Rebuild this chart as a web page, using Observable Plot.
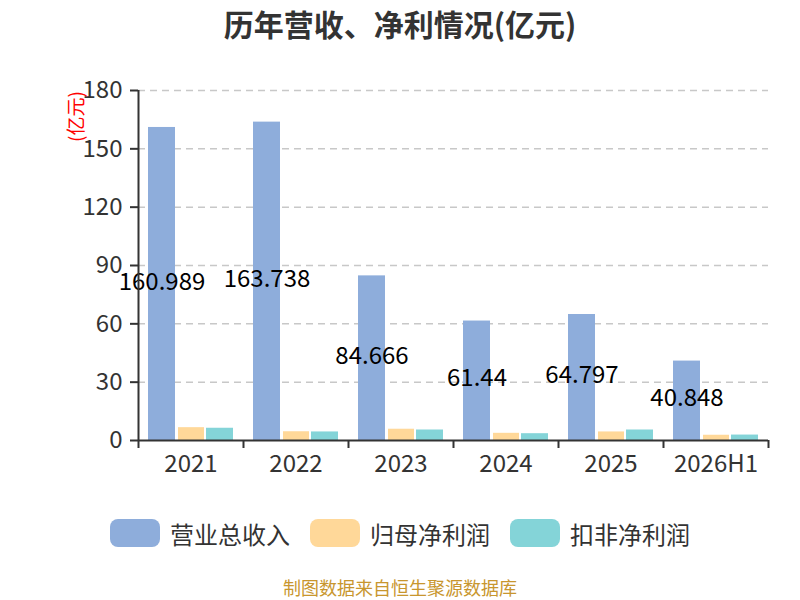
<!DOCTYPE html>
<html>
<head>
<meta charset="utf-8">
<script src="https://cdn.jsdelivr.net/npm/d3@7"></script>
<script src="https://cdn.jsdelivr.net/npm/@observablehq/plot@0.6"></script>
<style>
  body { margin: 0; background: white; font-family: "Noto Sans CJK SC", "Noto Sans", sans-serif; }
  #wrap { width: 800px; height: 600px; overflow: hidden; }
  #title { height: 50px; line-height: 46px; text-align: center; font-size: 30px; font-weight: bold; color: #333; }
  #legend { height: 84px; display: flex; justify-content: center; align-items: center; gap: 20px; padding-top: 2px; box-sizing: border-box; }
  .item { display: flex; align-items: center; gap: 10px; font-size: 24px; color: #333; }
  .sw { width: 50px; height: 28px; border-radius: 8px; }
  #caption { height: 26px; line-height: 26px; text-align: center; font-size: 18px; color: #c8962e; }
  svg { display: block; }
</style>
</head>
<body>
<div id="wrap">
  <div id="title">历年营收、净利情况(亿元)</div>
  <div id="chart"></div>
  <div id="legend"></div>
  <div id="caption">制图数据来自恒生聚源数据库</div>
</div>
<script>
const years = ["2021", "2022", "2023", "2024", "2025", "2026H1"];
const revenue = [160.989, 163.738, 84.666, 61.44, 64.797, 40.848];
const netProfit = [6.6, 4.5, 5.8, 3.7, 4.4, 2.7];
const deductedProfit = [6.3, 4.4, 5.4, 3.5, 5.4, 2.8];
const seriesNames = ["营业总收入", "归母净利润", "扣非净利润"];
const colors = ["#8eaddb", "#ffd899", "#84d4d8"];
const yTicks = [0, 30, 60, 90, 120, 150, 180];
const unitLabel = "(亿元)";

const rows = years.map((year, i) => ({year, rev: revenue[i], np: netProfit[i], dp: deductedProfit[i]}));
const half = 52.5;

const chart = Plot.plot({
  width: 800,
  height: 440,
  marginTop: 40,
  marginBottom: 50,
  marginLeft: 138,
  marginRight: 32,
  style: {fontFamily: "'Noto Sans CJK SC', 'Noto Sans', sans-serif", background: "white", color: "#333", overflow: "visible"},
  x: {domain: years, padding: 0, label: null},
  y: {domain: [0, 180], label: null},
  marks: [
    Plot.ruleY(yTicks.filter(t => t > 0), {stroke: "#c8c8c8", strokeWidth: 1.5, strokeDasharray: "7,5"}),
    Plot.barY(rows, {x: "year", y: "rev", fill: colors[0], insetLeft: 10, insetRight: 68}),
    Plot.barY(rows, {x: "year", y: "np", fill: colors[1], insetLeft: 40, insetRight: 39}),
    Plot.barY(rows, {x: "year", y: "dp", fill: colors[2], insetLeft: 68, insetRight: 10}),
    Plot.text(rows, {x: "year", y: d => d.rev / 2, text: d => String(d.rev), dx: -29, dy: -2, fontSize: 24, fill: "#000"}),
    Plot.ruleY([0], {stroke: "#333", strokeWidth: 2}),
    Plot.ruleX([years[0]], {dx: -half, y1: 0, y2: 180, stroke: "#333", strokeWidth: 2}),
    Plot.tickX(years, {x: d => d, dx: -half, insetTop: 350, insetBottom: -8, stroke: "#333", strokeWidth: 2}),
    Plot.tickX([years[years.length - 1]], {x: d => d, dx: half, insetTop: 350, insetBottom: -8, stroke: "#333", strokeWidth: 2}),
    Plot.axisX({tickSize: 0, tickPadding: 14, fontSize: 24, label: null, fill: "#333"}),
    Plot.axisY({ticks: yTicks, tickSize: 8, tickPadding: 8, fontSize: 24, label: null, stroke: "#333", strokeWidth: 2, fill: "#333"}),
    Plot.text([unitLabel], {frameAnchor: "top-left", textAnchor: "middle", lineAnchor: "middle", rotate: -90, dx: -62, dy: 26, fill: "red", fontSize: 19})
  ]
});
document.getElementById("chart").appendChild(chart);

const legend = document.getElementById("legend");
seriesNames.forEach((name, i) => {
  const item = document.createElement("div");
  item.className = "item";
  const sw = document.createElement("div");
  sw.className = "sw";
  sw.style.background = colors[i];
  const t = document.createElement("span");
  t.textContent = name;
  item.appendChild(sw);
  item.appendChild(t);
  legend.appendChild(item);
});
</script>
</body>
</html>
